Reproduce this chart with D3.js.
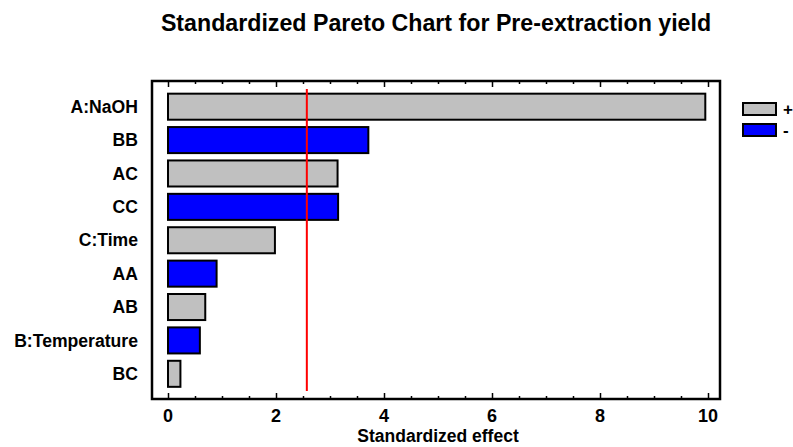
<!DOCTYPE html>
<html>
<head>
<meta charset="utf-8">
<script src="https://cdn.jsdelivr.net/npm/d3@7"></script>
<style>
  html, body { margin: 0; padding: 0; background: #fff; }
  svg text { font-family: "Liberation Sans", Arial, sans-serif; font-weight: bold; fill: #000; }
</style>
</head>
<body>
<svg id="chart" width="793" height="447"></svg>
<script>
// Effects, sorted by magnitude
const terms   = ["A:NaOH", "BB", "AC", "CC", "C:Time", "AA", "AB", "B:Temperature", "BC"];
const effects = [9.95, 3.71, 3.14, 3.15, 1.98, 0.90, 0.69, 0.59, 0.23];
const signs   = ["+", "-", "+", "-", "+", "-", "+", "-", "+"];
const xTicks  = [0, 2, 4, 6, 8, 10];
const critical = 2.571;
const legendItems = ["+", "-"];

const colors = { "+": "#c0c0c0", "-": "#0000ff" };

const svg = d3.select("#chart");
const frame = { left: 152, right: 720, top: 81, bottom: 399 };

const x = d3.scaleLinear().domain([0, 10]).range([168, 708]);
const y = d3.scaleBand().domain(terms).range([90, 390.5]).paddingInner(0.22).paddingOuter(0.11);

// Title
svg.append("text")
  .attr("x", 436).attr("y", 31)
  .attr("text-anchor", "middle")
  .style("font-size", "23.2px")
  .text("Standardized Pareto Chart for Pre-extraction yield");

// Bars
const rows = terms.map((t, i) => ({ term: t, value: effects[i], sign: signs[i] }));
svg.append("g").selectAll("rect").data(rows).join("rect")
  .attr("x", x(0))
  .attr("y", d => y(d.term))
  .attr("width", d => x(d.value) - x(0))
  .attr("height", y.bandwidth())
  .attr("fill", d => colors[d.sign])
  .attr("stroke", "#000")
  .attr("stroke-width", 2);

// Critical value line
svg.append("line")
  .attr("x1", x(critical)).attr("x2", x(critical))
  .attr("y1", 89).attr("y2", 391)
  .attr("stroke", "#ff0000").attr("stroke-width", 2);

// Frame
svg.append("rect")
  .attr("x", frame.left).attr("y", frame.top)
  .attr("width", frame.right - frame.left).attr("height", frame.bottom - frame.top)
  .attr("fill", "none").attr("stroke", "#000").attr("stroke-width", 2.5);

// Inward tick marks on top and bottom edges
const minor = d3.range(0, 10.01, 0.5);
const bottomAxis = d3.axisBottom(x).tickValues(minor).tickSize(-3).tickFormat("");
const topAxis = d3.axisTop(x).tickValues(minor).tickSize(-3).tickFormat("");
const gb = svg.append("g").attr("transform", `translate(0,${frame.bottom})`).call(bottomAxis);
const gt = svg.append("g").attr("transform", `translate(0,${frame.top})`).call(topAxis);
[gb, gt].forEach(g => {
  g.select(".domain").remove();
  g.selectAll(".tick line")
    .attr("stroke", "#000").attr("stroke-width", 1.5)
    .attr("y2", d => (xTicks.includes(d) ? 6 : 3) * (g === gb ? -1 : 1));
});

// Tick labels
svg.append("g").selectAll("text").data(xTicks).join("text")
  .attr("x", d => x(d)).attr("y", 422)
  .attr("text-anchor", "middle")
  .style("font-size", "18px")
  .text(d => d);

// Axis title
svg.append("text")
  .attr("x", 438).attr("y", 442)
  .attr("text-anchor", "middle")
  .style("font-size", "17.5px")
  .text("Standardized effect");

// Term labels
svg.append("g").selectAll("text").data(terms).join("text")
  .attr("x", 138)
  .attr("y", d => y(d) + y.bandwidth() / 2)
  .attr("dy", "0.35em")
  .attr("text-anchor", "end")
  .style("font-size", "17.6px")
  .text(d => d);

// Legend
const lg = svg.append("g").selectAll("g").data(legendItems).join("g")
  .attr("transform", (d, i) => `translate(743,${103 + i * 21})`);
lg.append("rect")
  .attr("width", 33).attr("height", 12)
  .attr("fill", d => colors[d])
  .attr("stroke", "#000").attr("stroke-width", 2);
lg.append("text")
  .attr("x", 40).attr("y", 6).attr("dy", "0.36em")
  .style("font-size", "17px")
  .text(d => d);
</script>
</body>
</html>
